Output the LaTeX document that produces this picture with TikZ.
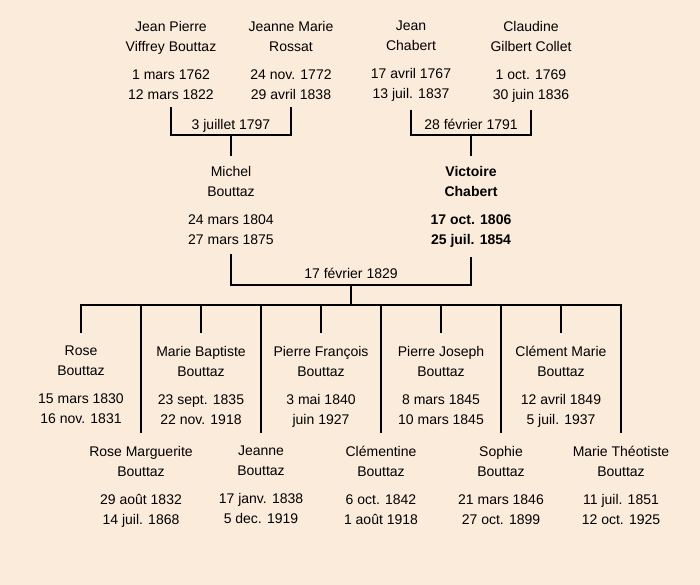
\documentclass[tikz,border=0pt]{standalone}
\usepackage{fontspec}
\setmainfont{Liberation Sans}
\definecolor{paper}{HTML}{FBEBDA}

\begin{document}
\begin{tikzpicture}
        [x=1pt, y=-1pt,
         person/.style={align=center, anchor=north, inner sep=0pt, outer sep=8pt,
                        font=\fontsize{14}{20}\selectfont,
                        execute at begin node={\rule{0pt}{11pt}}},
         parent/.style={person, outer sep=10pt},
         chosen/.style={parent, font=\fontsize{14}{20}\selectfont\bfseries},
         child/.style={person, outer sep=13pt},
         link/.style={draw=black, line width=2pt},
         wedding/.style={anchor=base, inner sep=0pt, font=\fontsize{14}{16}\selectfont}]
        \fill[paper] (0,0) rectangle (700,585);
        % grand parents
        \node[person] (jp) at (171,13) {Jean Pierre\\Viffrey Bouttaz\\[8pt]1 mars 1762\\12 mars 1822};
        \node[person] (jm) at (291,13) {Jeanne Marie\\Rossat\\[8pt]24 nov. 1772\\29 avril 1838};
        \node[person] (jc) at (411,13) {Jean\\Chabert\\[8pt]17 avril 1767\\13 juil. 1837};
        \node[person] (cg) at (531,13) {Claudine\\Gilbert Collet\\[8pt]1 oct. 1769\\30 juin 1836};
        % parents
        \node[parent] (mb) at (231,156) {Michel\\Bouttaz\\[8pt]24 mars 1804\\27 mars 1875};
        \node[chosen] (vc) at (471,156) {Victoire\\Chabert\\[8pt]17 oct. 1806\\25 juil. 1854};
        \coordinate (u1) at (231,135);
        \coordinate (u2) at (471,135);
        \coordinate (u3) at (351,285);
        \coordinate (bar) at (351,305);
        \draw[link] (jp.south) |- (u1) -| (jm.south);
        \draw[link] (jc.south) |- (u2) -| (cg.south);
        \draw[link] (u1) -- (mb.north);
        \draw[link] (u2) -- (vc.north);
        \draw[link] (mb.south) |- (u3) -| (vc.south);
        \draw[link] (u3) -- (bar);
        \node[wedding] at (231,130) {3 juillet 1797};
        \node[wedding] at (471,130) {28 février 1791};
        \node[wedding] at (351,278) {17 février 1829};
        % children
        \foreach \i/\y/\first/\born/\died in
          {1/333/Rose/15 mars 1830/16 nov. 1831,
           2/433/Rose Marguerite/29 août 1832/14 juil. 1868,
           3/333/Marie Baptiste/23 sept. 1835/22 nov. 1918,
           4/433/Jeanne/17 janv. 1838/5 dec. 1919,
           5/333/Pierre François/3 mai 1840/juin 1927,
           6/433/Clémentine/6 oct. 1842/1 août 1918,
           7/333/Pierre Joseph/8 mars 1845/10 mars 1845,
           8/433/Sophie/21 mars 1846/27 oct. 1899,
           9/333/Clément Marie/12 avril 1849/5 juil. 1937,
           10/433/Marie Théotiste/11 juil. 1851/12 oct. 1925}
          \node[child] (c\i) at (21+60*\i,\y) {\first\\Bouttaz\\[8pt]\born\\\died};
        \draw[link] (c1.north) |- (bar) -| (c10.north);
        \foreach \i in {2,...,9}
          \draw[link] (c\i.north) -- (c\i.north |- bar);
\end{tikzpicture}
\end{document}
